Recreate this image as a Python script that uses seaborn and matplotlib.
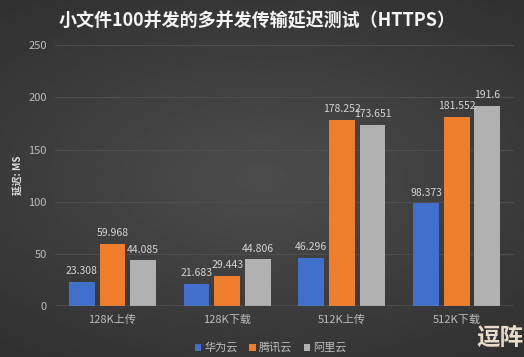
import numpy as np
import pandas as pd
import matplotlib.pyplot as plt
import seaborn as sns

categories = ['128K上传', '128K下载', '512K上传', '512K下载']
providers = ['华为云', '腾讯云', '阿里云']
huawei = [23.308, 21.683, 46.296, 98.373]
tencent = [59.968, 29.443, 178.252, 181.552]
aliyun = [44.085, 44.806, 173.651, 191.6]
colors = ['#4170cc', '#f07d2c', '#b1b1b1']

data = pd.DataFrame({
    'cat': categories * 3,
    'provider': [p for p in providers for _ in categories],
    'value': huawei + tencent + aliyun,
})

sns.set_style('dark')
plt.rcParams['font.family'] = ['Noto Sans CJK SC', 'DejaVu Sans']

fig = plt.figure(figsize=(5.24, 3.57), dpi=100)

# radial background gradient
bg = fig.add_axes([0, 0, 1, 1], zorder=-10)
yy, xx = np.mgrid[-1:1:200j, -1:1:300j]
r = np.sqrt((xx * 0.9) ** 2 + (yy * 1.1) ** 2)
bg.imshow(0.30 - 0.11 * np.clip(r, 0, 1.4) / 1.4, cmap='gray', vmin=0, vmax=1,
          aspect='auto', extent=[0, 1, 0, 1])
bg.axis('off')

ax = fig.add_axes([0.105, 0.142, 0.876, 0.732])
ax.set_facecolor('none')
sns.barplot(data=data, x='cat', y='value', hue='provider', palette=colors,
            width=0.8, gap=0.16, ax=ax, legend=True, saturation=1, linewidth=0)

for c in ax.containers:
    ax.bar_label(c, labels=[f'{v:g}' for v in c.datavalues], padding=4,
                 fontsize=7.5, color='#d4d4d4')

ax.set_ylim(0, 250)
ax.set_yticks(range(0, 251, 50))
ax.grid(axis='y', color='#4e4e4e', linewidth=0.8)
ax.set_axisbelow(True)
for s in ax.spines.values():
    s.set_visible(False)
ax.axhline(0, color='#8a8a8a', linewidth=1)
ax.tick_params(axis='both', colors='#bdbdbd', labelsize=8, length=0, pad=6)
ax.set_xlabel('')
ax.set_ylabel('延迟: MS', color='#e0e0e0', fontsize=7, fontweight='bold', labelpad=4)

leg = ax.legend(loc='upper center', bbox_to_anchor=(0.47, -0.1), ncol=3, frameon=False,
                fontsize=8, handlelength=0.6, handleheight=0.6, handletextpad=0.3,
                columnspacing=1.0)
for t in leg.get_texts():
    t.set_color('#bdbdbd')

fig.text(0.49, 0.94, '小文件100并发的多并发传输延迟测试（HTTPS）', ha='center', va='center',
         fontsize=13, fontweight='bold', color='#f5f5f5')
fig.text(0.955, 0.055, '逗阵', ha='center', va='center', fontsize=17, fontweight='bold',
         color='#e8dcc8')

fig.savefig('out.png', dpi=100)
